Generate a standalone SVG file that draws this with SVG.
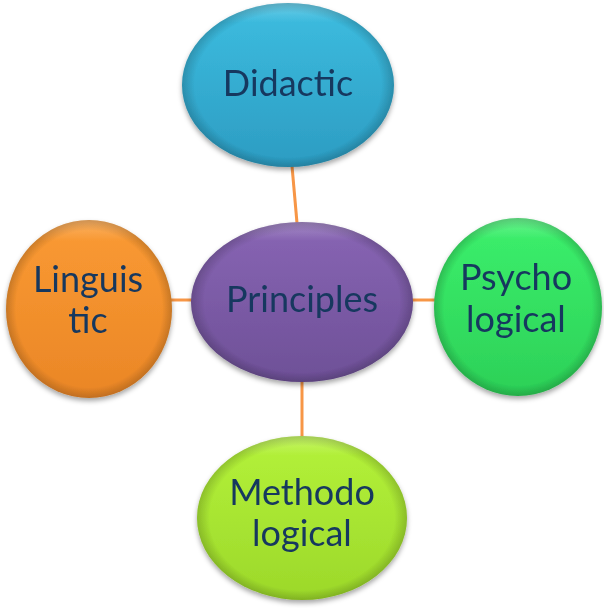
<svg xmlns="http://www.w3.org/2000/svg" width="604" height="608" viewBox="0 0 604 608">
<defs>
<style>
.lbl{font-family:Lato,"Open Sans",sans-serif;font-size:36px;fill:#17375e;text-anchor:middle}
.conn{stroke:#f79646;stroke-width:3;fill:none}
.node{filter:url(#sh)}
</style>
<filter id="sh" x="-20%" y="-20%" width="140%" height="140%">
<feDropShadow dx="0" dy="3" stdDeviation="2.5" flood-color="#000" flood-opacity="0.35"/>
</filter>
<linearGradient id="gBlue" x1="0" y1="0" x2="0" y2="1"><stop offset="0" stop-color="#3dbde0"/><stop offset="1" stop-color="#2c9cc2"/></linearGradient>
<linearGradient id="gOrange" x1="0" y1="0" x2="0" y2="1"><stop offset="0" stop-color="#fa9a33"/><stop offset="1" stop-color="#ea8626"/></linearGradient>
<linearGradient id="gPurple" x1="0" y1="0" x2="0" y2="1"><stop offset="0" stop-color="#8865b4"/><stop offset="1" stop-color="#6e5097"/></linearGradient>
<linearGradient id="gGreen" x1="0" y1="0" x2="0" y2="1"><stop offset="0" stop-color="#3cf06c"/><stop offset="1" stop-color="#2cd057"/></linearGradient>
<linearGradient id="gLime" x1="0" y1="0" x2="0" y2="1"><stop offset="0" stop-color="#b4f23a"/><stop offset="1" stop-color="#9cd82a"/></linearGradient>
<radialGradient id="bevel" cx="0.5" cy="0.5" r="0.5">
<stop offset="0.88" stop-color="#000" stop-opacity="0"/>
<stop offset="1" stop-color="#000" stop-opacity="0.18"/>
</radialGradient>
<linearGradient id="hi" x1="0" y1="0" x2="0" y2="1"><stop offset="0" stop-color="#fff" stop-opacity="0.25"/><stop offset="0.12" stop-color="#fff" stop-opacity="0"/></linearGradient>
</defs>
<g id="connectors">
<line class="conn" x1="292" y1="166" x2="297" y2="223"/>
<line class="conn" x1="170" y1="300" x2="193" y2="300"/>
<line class="conn" x1="411" y1="300" x2="436" y2="300"/>
<line class="conn" x1="302" y1="381" x2="302" y2="438"/>
</g>
<g id="didactic" class="node">
<ellipse cx="288" cy="85" rx="106" ry="82" fill="url(#gBlue)"/>
<ellipse cx="288" cy="85" rx="106" ry="82" fill="url(#hi)"/>
<ellipse cx="288" cy="85" rx="106" ry="82" fill="url(#bevel)"/>
<text class="lbl" x="288" y="96">Didactic</text>
</g>
<g id="linguistic" class="node">
<ellipse cx="89" cy="309" rx="83" ry="89" fill="url(#gOrange)"/>
<ellipse cx="89" cy="309" rx="83" ry="89" fill="url(#hi)"/>
<ellipse cx="89" cy="309" rx="83" ry="89" fill="url(#bevel)"/>
<text class="lbl" x="88" y="292">Linguis</text>
<text class="lbl" x="88" y="333">tic</text>
</g>
<g id="principles" class="node">
<ellipse cx="302" cy="302" rx="111" ry="80" fill="url(#gPurple)"/>
<ellipse cx="302" cy="302" rx="111" ry="80" fill="url(#hi)"/>
<ellipse cx="302" cy="302" rx="111" ry="80" fill="url(#bevel)"/>
<text class="lbl" x="302" y="312">Principles</text>
</g>
<g id="psychological" class="node">
<ellipse cx="518" cy="307" rx="84" ry="89" fill="url(#gGreen)"/>
<ellipse cx="518" cy="307" rx="84" ry="89" fill="url(#hi)"/>
<ellipse cx="518" cy="307" rx="84" ry="89" fill="url(#bevel)"/>
<text class="lbl" x="516" y="290">Psycho</text>
<text class="lbl" x="516" y="332">logical</text>
</g>
<g id="methodological" class="node">
<ellipse cx="302" cy="518" rx="105" ry="82" fill="url(#gLime)"/>
<ellipse cx="302" cy="518" rx="105" ry="82" fill="url(#hi)"/>
<ellipse cx="302" cy="518" rx="105" ry="82" fill="url(#bevel)"/>
<text class="lbl" x="302" y="505">Methodo</text>
<text class="lbl" x="302" y="546">logical</text>
</g>
</svg>
